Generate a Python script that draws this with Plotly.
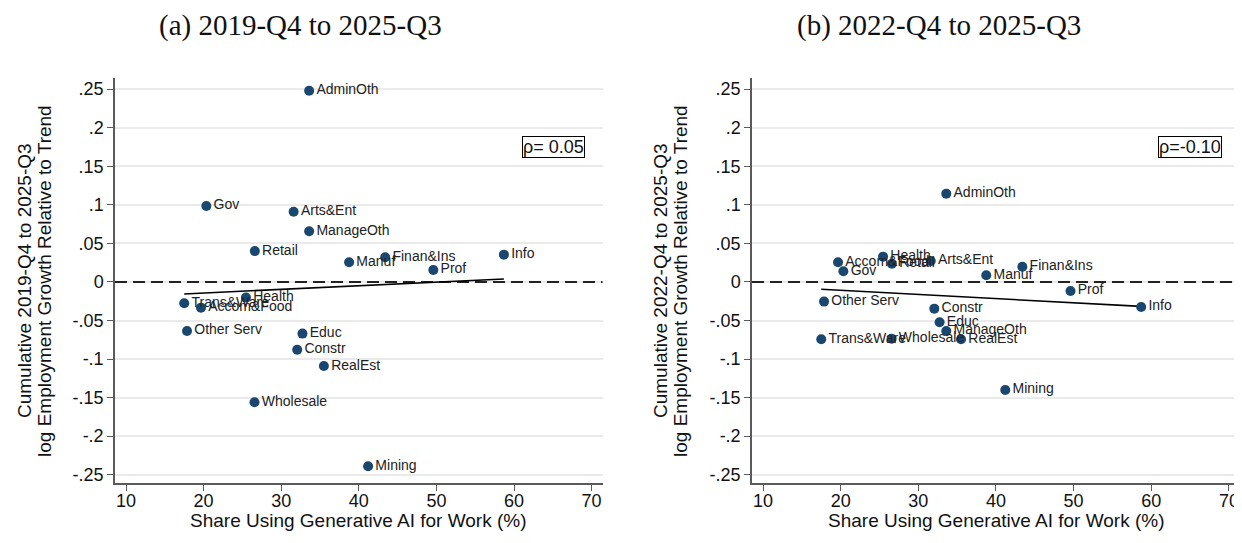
import numpy as np
import plotly.graph_objects as go

# ---------------- data ----------------
industries = ["AdminOth", "Gov", "Arts&Ent", "ManageOth", "Retail", "Manuf", "Finan&Ins",
              "Prof", "Info", "Health", "Trans&Ware", "Accom&Food", "Other Serv", "Educ",
              "Constr", "RealEst", "Wholesale", "Mining"]
ai_share = [33.6, 20.35, 31.6, 33.6, 26.6, 38.75, 43.4, 49.6, 58.7, 25.46, 17.5, 19.66,
            17.86, 32.74, 32.06, 35.5, 26.56, 41.2]
growth_2019 = [0.248, 0.0985, 0.091, 0.0657, 0.040, 0.0255, 0.032, 0.0156, 0.0354, -0.0203,
               -0.0277, -0.0333, -0.0635, -0.067, -0.088, -0.109, -0.156, -0.239]
growth_2022 = [0.1145, 0.0139, 0.0272, -0.0635, 0.0237, 0.0087, 0.0198, -0.0117, -0.0324,
               0.0328, -0.0743, 0.0255, -0.0255, -0.0523, -0.0346, -0.0743, -0.0735, -0.140]
rho_labels = ["ρ= 0.05", "ρ=-0.10"]
panel_titles = ["(a) 2019-Q4 to 2025-Q3", "(b) 2022-Q4 to 2025-Q3"]
ytitle_line1 = ["Cumulative 2019-Q4 to 2025-Q3", "Cumulative 2022-Q4 to 2025-Q3"]
ytitle_line2 = "log Employment Growth Relative to Trend"
xtitle = "Share Using Generative AI for Work (%)"
ytick_vals = [-0.25, -0.2, -0.15, -0.1, -0.05, 0, 0.05, 0.1, 0.15, 0.2, 0.25]
ytick_text = ["-.25", "-.2", "-.15", "-.1", "-.05", "0", ".05", ".1", ".15", ".2", ".25"]
xtick_vals = [10, 20, 30, 40, 50, 60, 70]

# ---------------- style ----------------
W, H = 1242, 543
OFF = 8  # page body margin
NAVY = "rgb(26,71,111)"
SANS = "Arial, Liberation Sans, sans-serif"
SERIF = "Times New Roman, Liberation Serif, serif"
AXIS_COL = "rgb(90,90,90)"
GRID_COL = "rgb(234,234,234)"

def px(x):
    return (x - OFF) / W

def py(y):
    return 1 - (y - OFF) / H

x_domains = [[px(115), px(602.7)], [px(752), px(1240)]]
y_domain = [py(483.3), py(78.3)]
xrange_ = [8.58, 71.43]
yrange_ = [-0.2611, 0.2641]

fig = go.Figure()
series = [growth_2019, growth_2022]
for i, yv in enumerate(series):
    xa = "x" if i == 0 else "x2"
    ya = "y" if i == 0 else "y2"
    # dashed zero reference line across the axis range
    fig.add_trace(go.Scatter(
        x=xrange_, y=[0, 0], mode="lines",
        line=dict(color="#222", width=2, dash="12px,6px"),
        xaxis=xa, yaxis=ya, showlegend=False, hoverinfo="skip"))
    # OLS fit line
    b, a = np.polyfit(ai_share, yv, 1)
    xs = np.array([min(ai_share), max(ai_share)])
    fig.add_trace(go.Scatter(
        x=xs, y=a + b * xs, mode="lines",
        line=dict(color="black", width=1.6),
        xaxis=xa, yaxis=ya, showlegend=False))
    fig.add_trace(go.Scatter(
        x=ai_share, y=yv, mode="markers+text", text=industries,
        textposition="middle right",
        textfont=dict(family=SANS, size=14, color="#222"),
        marker=dict(size=10, color=NAVY),
        xaxis=xa, yaxis=ya, showlegend=False, cliponaxis=False))

layout = dict(
    width=W, height=H,
    margin=dict(l=0, r=0, t=0, b=0, autoexpand=False),
    paper_bgcolor="white", plot_bgcolor="white",
    showlegend=False,
)
for i in range(2):
    sx = "" if i == 0 else "2"
    layout["xaxis" + sx] = dict(
        domain=x_domains[i], range=xrange_, anchor="y" + sx,
        tickvals=xtick_vals, ticks="outside", ticklen=6, tickwidth=1.3, tickcolor=AXIS_COL,
        ticklabelstandoff=-6,
        showline=True, linecolor=AXIS_COL, linewidth=1.5,
        showgrid=False, zeroline=False,
        tickfont=dict(family=SANS, size=18, color="#111"))
    layout["yaxis" + sx] = dict(
        domain=y_domain, range=yrange_, anchor="x" + sx,
        tickvals=ytick_vals, ticktext=ytick_text,
        ticks="outside", ticklen=6, tickwidth=1.3, tickcolor=AXIS_COL,
        showline=True, linecolor=AXIS_COL, linewidth=1.5,
        showgrid=True, gridcolor=GRID_COL, gridwidth=1.5, zeroline=False,
        tickfont=dict(family=SANS, size=18, color="#111"))
fig.update_layout(**layout)

anns = []
title_cx = [300.5, 939]
xt_cx = [358.8, 996]
yt_x1 = [24, 660]
yt_x2 = [44, 680]
rho_x = [553, 1190]
for i in range(2):
    anns.append(dict(text=panel_titles[i], x=px(title_cx[i]), y=py(25), xref="paper", yref="paper",
                     showarrow=False, xanchor="center", yanchor="middle",
                     font=dict(family=SERIF, size=29, color="#111")))
    anns.append(dict(text=xtitle, x=px(xt_cx[i]), y=py(520), xref="paper", yref="paper",
                     showarrow=False, xanchor="center", yanchor="middle",
                     font=dict(family=SANS, size=19, color="#111")))
    anns.append(dict(text=ytitle_line1[i], x=px(yt_x1[i]), y=py(281), xref="paper", yref="paper",
                     showarrow=False, xanchor="center", yanchor="middle", textangle=-90,
                     font=dict(family=SANS, size=19, color="#111")))
    anns.append(dict(text=ytitle_line2, x=px(yt_x2[i]), y=py(281), xref="paper", yref="paper",
                     showarrow=False, xanchor="center", yanchor="middle", textangle=-90,
                     font=dict(family=SANS, size=19, color="#111")))
    anns.append(dict(text=rho_labels[i], x=px(rho_x[i]), y=py(147), xref="paper", yref="paper",
                     showarrow=False, xanchor="center", yanchor="middle",
                     bordercolor="black", borderwidth=1, borderpad=0, bgcolor="white",
                     font=dict(family=SANS, size=18, color="#111")))
fig.update_layout(annotations=anns)

fig.write_html("out.html")
